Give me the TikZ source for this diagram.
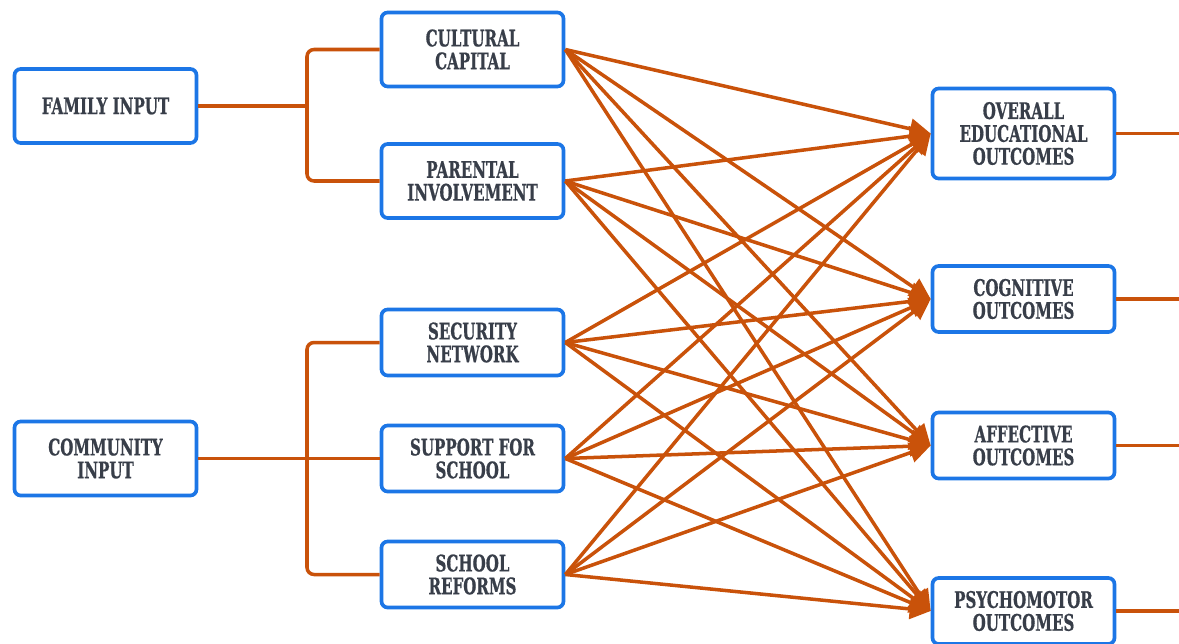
\documentclass[tikz,border=0pt]{standalone}
\usepackage{fontspec}
\usetikzlibrary{arrows.meta}
\newfontfamily\labfont[FakeStretch=0.66, BoldFeatures={FakeBold=0.6}]{DejaVu Serif}
\definecolor{boxblue}{HTML}{1C76E6}
\definecolor{conn}{HTML}{C9520A}
\definecolor{txt}{HTML}{383E49}
\begin{document}
\begin{tikzpicture}[x=0.02cm,y=-0.02cm,
  box/.style={draw=boxblue, line width=2.1pt, rounded corners=3.5pt, fill=white,
    minimum width=3.64cm, align=center, inner sep=0pt, text=txt,
    font=\labfont\bfseries\fontsize{13}{13}\selectfont},
  link/.style={draw=conn, line width=2pt},
  arr/.style={link, -{Triangle[length=0.42cm,width=0.4cm]}}]
\useasboundingbox (0,0) rectangle (1179,643);
% left nodes
\node[box, minimum height=1.48cm] (fi) at (105.5,106) {FAMILY INPUT};
\node[box, minimum height=1.48cm] (ci) at (105.5,458.5) {COMMUNITY\\INPUT};
% middle nodes
\node[box, minimum height=1.48cm] (cc) at (472.5,49.5) {CULTURAL\\CAPITAL};
\node[box, minimum height=1.48cm] (pi) at (472.5,181) {PARENTAL\\INVOLVEMENT};
\node[box, minimum height=1.32cm] (sn) at (472.5,342.5) {SECURITY\\NETWORK};
\node[box, minimum height=1.32cm] (ss) at (472.5,458.5) {SUPPORT FOR\\SCHOOL};
\node[box, minimum height=1.32cm] (sr) at (472.5,574.5) {SCHOOL\\REFORMS};
% right nodes
\node[box, minimum height=1.80cm] (o1) at (1023.5,133.5) {OVERALL\\EDUCATIONAL\\OUTCOMES};
\node[box, minimum height=1.32cm] (o2) at (1023.5,299) {COGNITIVE\\OUTCOMES};
\node[box, minimum height=1.32cm] (o3) at (1023.5,445.5) {AFFECTIVE\\OUTCOMES};
\node[box, minimum height=1.32cm] (o4) at (1023.5,611) {PSYCHOMOTOR\\OUTCOMES};
% junctions
\coordinate (fj) at (307,106);
\coordinate (cj) at (307,458.5);
\coordinate (rt) at (1179,0);
% family bracket
\draw[link] (fi.east) -- (fj);
\draw[link, rounded corners=4pt] (cc.west) -| (fj) |- (pi.west);
% community bracket
\draw[link] (ci.east) -- (ss.west);
\draw[link, rounded corners=4pt] (sn.west) -| (cj) |- (sr.west);
% arrows
\foreach \s in {cc,pi,sn,ss,sr}
  \foreach \t in {o1,o2,o3,o4}
    \draw[arr] (\s.east) -- (\t.west);
% right stubs
\foreach \t in {o1,o2,o3,o4}
  \draw[link] (\t.east) -- (\t.east -| rt);
\end{tikzpicture}
\end{document}
